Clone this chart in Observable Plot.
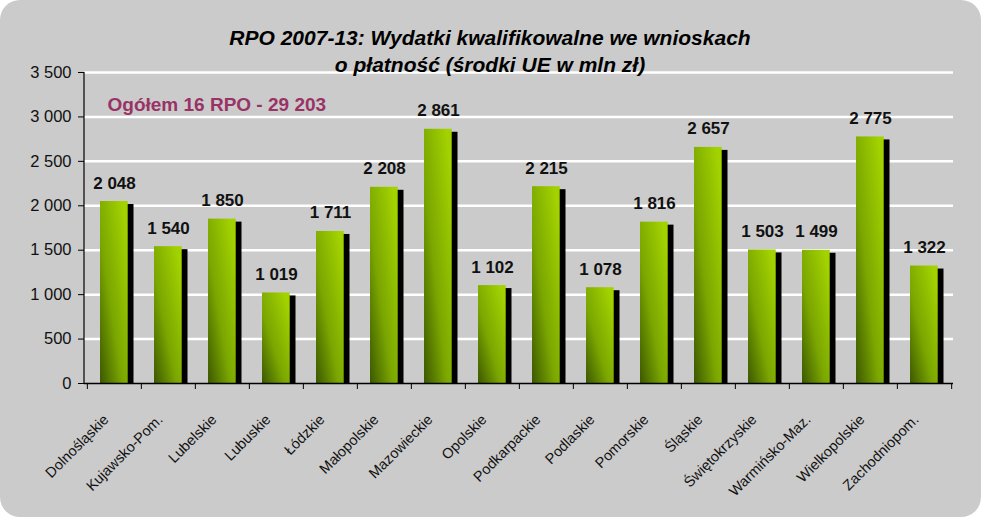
<!DOCTYPE html>
<html>
<head>
<meta charset="utf-8">
<script src="https://cdn.jsdelivr.net/npm/d3@7"></script>
<script src="https://cdn.jsdelivr.net/npm/@observablehq/plot@0.6"></script>
<style>
  html, body { margin: 0; padding: 0; background: #ffffff; }
  #wrap { position: relative; width: 983px; height: 520px; font-family: "Liberation Sans", Arial, sans-serif; }
  #panel { position: absolute; left: 0; top: 0; width: 981px; height: 517px; background: #cbcbcb; border-radius: 20px; }
  #title { position: absolute; left: 0; width: 980px; top: 24px; text-align: center; font-weight: bold; font-style: italic; font-size: 21px; line-height: 27px; color: #000; }
  #chart { position: absolute; left: 0; top: 0; }
</style>
</head>
<body>
<div id="wrap">
  <div id="panel"></div>
  <div id="chart"></div>
  <div id="title">RPO 2007-13: Wydatki kwalifikowalne we wnioskach<br>o płatność (środki UE w mln zł)</div>
</div>
<script>
const categories = ["Dolnośląskie","Kujawsko-Pom.","Lubelskie","Lubuskie","Łódzkie","Małopolskie","Mazowieckie","Opolskie","Podkarpackie","Podlaskie","Pomorskie","Śląskie","Świętokrzyskie","Warmińsko-Maz.","Wielkopolskie","Zachodniopom."];
const values = [2048,1540,1850,1019,1711,2208,2861,1102,2215,1078,1816,2657,1503,1499,2775,1322];
const yTicks = [0,500,1000,1500,2000,2500,3000,3500];
const annotation = "Ogółem 16 RPO - 29 203";

const data = categories.map((c, i) => ({cat: c, value: values[i]}));
const fmt = d3.formatLocale({decimal: ",", thousands: " ", grouping: [3], currency: ["", ""]}).format(",d");

const W = 983, H = 520, mL = 84, mR = 30, mT = 72, mB = 137;
const bw = (W - mL - mR) / categories.length;

const chart = Plot.plot({
  width: W, height: H,
  marginLeft: mL, marginRight: mR, marginTop: mT, marginBottom: mB,
  style: {background: "transparent", fontFamily: "Liberation Sans, Arial, sans-serif"},
  x: {domain: categories, padding: 0, axis: null, label: null},
  y: {domain: [0, 3500], axis: null, label: null},
  marks: [
    Plot.gridY(yTicks.filter(d => d > 0), {stroke: "#ffffff", strokeOpacity: 1, strokeWidth: 2.5}),
    Plot.barY(data, {x: "cat", y: "value", fill: "#000", insetLeft: 30, insetRight: 7.5, insetTop: 3}),
    Plot.barY(data, {x: "cat", y: "value", fill: "url(#barGrad)", insetLeft: 13, insetRight: 13.3}),
    Plot.text(data, {x: "cat", y: "value", text: d => fmt(d.value), dy: -13, lineAnchor: "bottom", fontSize: 17, fontWeight: "bold", fill: "#111"}),
    Plot.axisY(yTicks, {label: null, tickSize: 6, tickPadding: 7, tickFormat: fmt, fontSize: 16.5, fill: "#111", stroke: "#000", style: "letter-spacing:0.6px"}),
    Plot.ruleY([0], {stroke: "#000", strokeWidth: 1.5}),
    Plot.axisX(categories, {label: null, tickSize: 6, text: null, dx: -bw / 2, stroke: "#000"}),
    Plot.axisX([categories[categories.length - 1]], {label: null, tickSize: 6, text: null, dx: bw / 2, stroke: "#000"}),
    Plot.text(data, {x: "cat", text: "cat", frameAnchor: "bottom", rotate: -45, textAnchor: "end", dy: 37, dx: -5, fontSize: 14.5, fill: "#111"}),
    Plot.text([annotation], {frameAnchor: "top-left", text: d => d, textAnchor: "start", dx: 23, dy: 25, fontSize: 19, fontWeight: "bold", fill: "#993366"})
  ]
});

const svg = d3.select(chart);
svg.append("line").attr("x1", mL).attr("x2", mL).attr("y1", mT).attr("y2", H - mB).attr("stroke", "#000").attr("stroke-width", 1.2);

const defs = svg.insert("defs", ":first-child");
const g = defs.append("linearGradient").attr("id", "barGrad")
  .attr("x1", 0).attr("y1", 1).attr("x2", 0.9).attr("y2", 0.1);
g.append("stop").attr("offset", "0%").attr("stop-color", "#3c5800");
g.append("stop").attr("offset", "45%").attr("stop-color", "#7aa600");
g.append("stop").attr("offset", "100%").attr("stop-color", "#a2d200");

document.getElementById("chart").appendChild(chart);
</script>
</body>
</html>
